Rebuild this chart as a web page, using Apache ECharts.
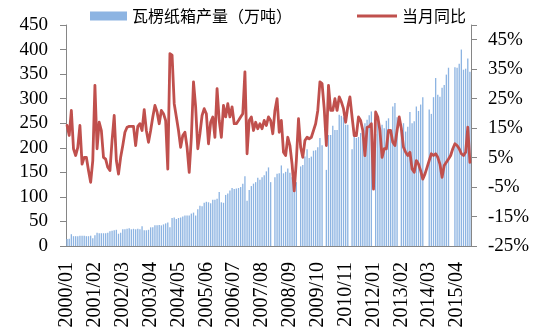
<!DOCTYPE html>
<html><head><meta charset="utf-8">
<script src="https://cdn.jsdelivr.net/npm/echarts@6/dist/echarts.min.js"></script>
<style>html,body{margin:0;padding:0;background:#fff}#c{width:538px;height:333px}</style>
</head><body><div id="c"></div>
<script>
// month categories 2000/01 .. 2015/10 (one month absent in source: 2011/12)
const firstYear = 2000, lastYear = 2015, lastMonth = 10;
const skippedMonths = ['2011/12'];
const categories = [];
for (let y = firstYear; y <= lastYear; y++) {
  for (let m = 1; m <= 12; m++) {
    if (y === lastYear && m > lastMonth) break;
    const lab = y + '/' + (m < 10 ? '0' + m : '' + m);
    if (skippedMonths.indexOf(lab) < 0) categories.push(lab);
  }
}

// 瓦楞纸箱产量（万吨）, per year
const prod2000 = [14, 15, 24, 20, 20, 20, 21, 21, 21, 20, 20, 21];
const prod2001 = [16, 22, 27, 26, 26, 26, 26, 27, 30, 31, 32, 33];
const prod2002 = [25, 27, 34, 34, 35, 36, 34, 35, 34, 35, 34, 40];
const prod2003 = [32, 32, 33, 38, 38, 42, 42, 43, 42, 44, 46, 48];
const prod2004 = [38, 57, 58, 55, 57, 58, 60, 62, 62, 62, 66, 68];
const prod2005 = [62, 75, 82, 81, 88, 90, 89, 87, 94, 94, 96, 110];
const prod2006 = [89, 88, 104, 107, 113, 118, 116, 117, 118, 120, 127, 142];
const prod2007 = [92, 114, 122, 127, 130, 139, 135, 140, 144, 152, 160, 130];
const prod2008 = [null, 140, 147, 148, 164, 148, 151, 158, 149, 140, 125, 130];
const prod2009 = [null, 162, 165, 182, 197, 179, 182, 194, 195, 201, 220, 205];
const prod2010 = [null, 155, 226, 226, 245, 236, 236, 267, 265, 262, 247, 247];
const prod2011 = [null, 197, 223, 220, 222, 230, 239, 250, 257, 266, 274];
const prod2012 = [null, 228, 252, 226, 247, 240, 255, 260, 230, 284, 291, 262];
const prod2013 = [null, 240, 250, 233, 243, 273, 250, 254, 284, 275, 288, 303];
const prod2014 = [null, null, 278, 269, 303, 342, 308, 304, 322, 328, 349, 363];
const prod2015 = [null, null, 364, 363, 371, 400, 359, 361, 382, 355];

// 当月同比 (%), per year
const yoy2000 = [15.9, 12.5, 21.0, 8.0, 5.7, 8.5, 15.9, 2.8, 5.1, 5.1, 0.6, -3.4];
const yoy2001 = [4.0, 29.5, 8.0, 17.0, 14.2, 5.1, 4.5, 1.7, 0.6, 10.8, 19.3, 4.0];
const yoy2002 = [-0.6, 5.1, 9.1, 13.6, 15.3, 15.6, 15.6, 15.6, 9.1, 15.6, 16.5, 14.2];
const yoy2003 = [21.3, 14.2, 10.2, 14.2, 18.8, 22.7, 20.5, 16.5, 21.0, 19.9, 17.6, 1.1];
const yoy2004 = [40.3, 39.8, 23.3, 18.8, 14.2, 8.5, 12.5, 13.6, 8.5, 0.0, 11.9, 30.7];
const yoy2005 = [22.2, 8.0, 13.1, 19.3, 21.6, 19.9, 9.7, 17.0, 18.8, 11.9, 28.4, 17.6];
const yoy2006 = [11.9, 22.7, 18.8, 23.3, 18.8, 22.2, 16.5, 16.5, 17.6, 18.8, 19.9, 34.1];
const yoy2007 = [6.3, 17.6, 18.8, 14.2, 17.0, 14.8, 16.5, 14.8, 17.6, 15.9, 18.8, 17.6];
const yoy2008 = [13.1, 21.0, 25.0, 13.6, 17.6, 6.8, 5.7, 11.9, 9.1, 2.8, -6.3, 4.0];
const yoy2009 = [18.2, 8.5, 5.1, 10.8, 11.9, 11.4, 11.9, 14.2, 16.5, 21.0, 30.7, 30.1];
const yoy2010 = [21.6, 9.1, 29.5, 21.0, 21.0, 25.0, 21.0, 25.6, 23.9, 21.6, 17.0, 22.2];
const yoy2011 = [25.6, 18.8, 12.5, 12.5, 18.8, 17.6, 14.2, 5.7, 15.3, 15.5, 16.5];
const yoy2012 = [-5.7, 20.5, 18.8, 14.2, 5.1, 8.0, 8.0, 14.2, 14.2, 10.2, 9.1, 14.2];
const yoy2013 = [18.8, 14.8, 8.5, 6.8, 5.7, 6.8, 1.1, 0.0, 4.0, 2.8, 0.6, -2.3];
const yoy2014 = [-0.6, 1.7, 4.0, 6.3, 5.7, 6.3, 5.1, 2.8, -1.7, 2.3, 3.4, 4.5];
const yoy2015 = [5.7, 8.0, 9.7, 9.1, 8.0, 6.3, 5.7, 6.8, 15.3, 3.4];

const production = [].concat(prod2000, prod2001, prod2002, prod2003, prod2004, prod2005,
  prod2006, prod2007, prod2008, prod2009, prod2010, prod2011, prod2012, prod2013, prod2014, prod2015);
const yoy = [].concat(yoy2000, yoy2001, yoy2002, yoy2003, yoy2004, yoy2005,
  yoy2006, yoy2007, yoy2008, yoy2009, yoy2010, yoy2011, yoy2012, yoy2013, yoy2014, yoy2015);

const leftTicks = {min: 0, max: 450, interval: 50};
const rightTicks = {min: -25, max: 50, interval: 10};

const serif = 'Liberation Serif';
const cjk = 'Noto Sans CJK SC';
const axisColor = '#868686';

const chart = echarts.init(document.getElementById('c'), null, {renderer: 'canvas'});
chart.setOption({
  animation: false,
  backgroundColor: '#fff',
  legend: [
    {data: ['瓦楞纸箱产量（万吨）'], left: 85, top: 3, itemWidth: 37, itemHeight: 9,
     icon: 'rect', textStyle: {fontFamily: cjk, fontSize: 16, color: '#000'}},
    {data: ['当月同比'], left: 352, top: 3, itemWidth: 40, itemHeight: 3,
     icon: 'rect', textStyle: {fontFamily: cjk, fontSize: 16, color: '#000'}}
  ],
  grid: {left: 66, right: 67, top: 25, bottom: 87, containLabel: false},
  xAxis: {
    type: 'category', data: categories, boundaryGap: true,
    axisLine: {lineStyle: {color: axisColor, width: 1}},
    axisTick: {interval: 12, length: 6, lineStyle: {color: axisColor}},
    axisLabel: {interval: 12, rotate: 90, margin: 16, fontFamily: serif, fontSize: 20, color: '#000'},
    splitLine: {show: false}
  },
  yAxis: [
    {type: 'value', position: 'left', min: leftTicks.min, max: leftTicks.max, interval: leftTicks.interval,
     axisLine: {show: true, lineStyle: {color: axisColor}},
     axisTick: {show: true, length: 6, lineStyle: {color: axisColor}},
     axisLabel: {margin: 18, fontFamily: serif, fontSize: 19, color: '#000'},
     splitLine: {show: false}},
    {type: 'value', position: 'right', min: rightTicks.min, max: rightTicks.max, interval: rightTicks.interval,
     axisLine: {show: true, lineStyle: {color: axisColor}},
     axisTick: {show: true, length: 6, lineStyle: {color: axisColor}},
     axisLabel: {margin: 17, fontFamily: serif, fontSize: 19, color: '#000',
       formatter: v => (v > 45 ? '' : v + '%')},
     splitLine: {show: false}}
  ],
  series: [
    {name: '瓦楞纸箱产量（万吨）', type: 'bar', yAxisIndex: 0, data: production,
     barCategoryGap: '38%', itemStyle: {color: '#8DB4E2'}, z: 1},
    {name: '当月同比', type: 'line', yAxisIndex: 1, data: yoy, symbol: 'none',
     connectNulls: true, lineStyle: {color: '#C0504D', width: 2.8, join: 'round', cap: 'round'},
     itemStyle: {color: '#C0504D'}, z: 3}
  ]
});
</script>
</body></html>
